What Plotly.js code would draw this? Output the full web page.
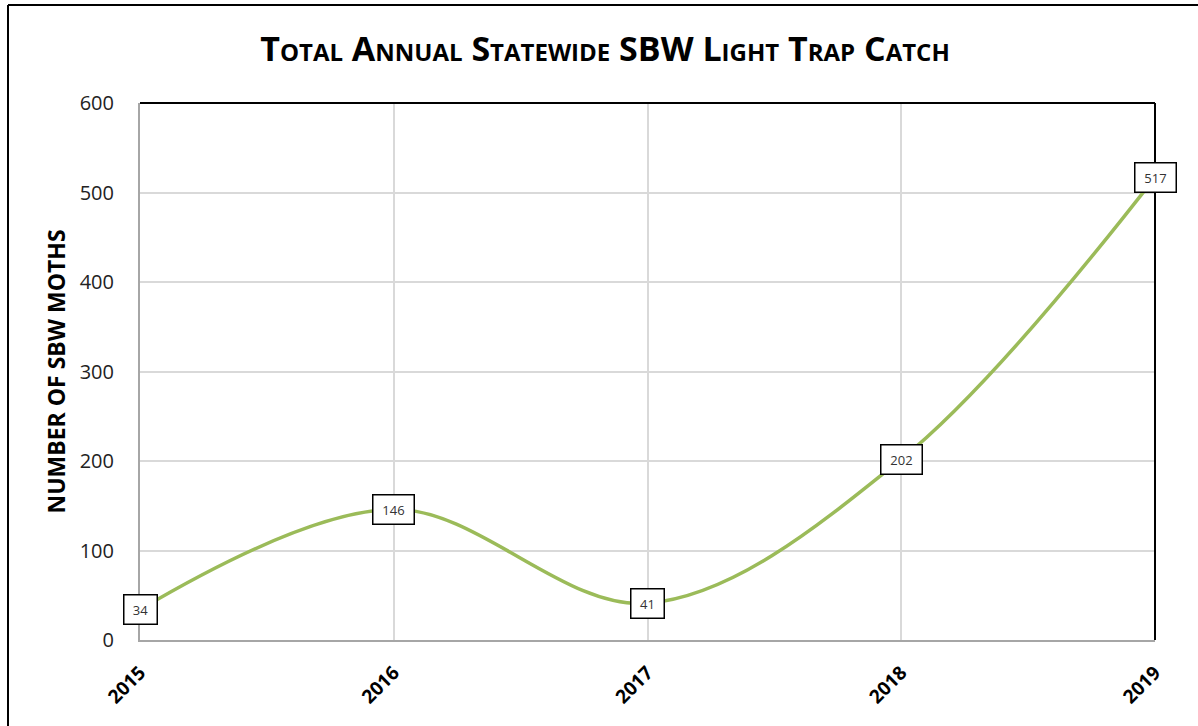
<!DOCTYPE html>
<html>
<head>
<meta charset="utf-8">
<script src="https://cdn.plot.ly/plotly-3.0.1.min.js"></script>
<style>
html,body{margin:0;padding:0;background:#fff;}
#chart{width:1198px;height:726px;}
</style>
</head>
<body>
<div id="chart"></div>
<script>
const years = [2015, 2016, 2017, 2018, 2019];
const moths = [34, 146, 41, 202, 517];
const yTicks = [0, 100, 200, 300, 400, 500, 600];

const FONT = '"Open Sans", "DejaVu Sans", sans-serif';

const trace = {
  x: years,
  y: moths,
  type: 'scatter',
  mode: 'lines',
  line: {color: '#9bbb59', width: 3.5, shape: 'spline', smoothing: 1},
  hoverinfo: 'x+y',
  cliponaxis: false
};

const annotations = years.map((yr, i) => ({
  x: yr, y: moths[i], xref: 'x', yref: 'y',
  text: String(moths[i]),
  showarrow: false,
  font: {family: FONT, size: 13, color: '#333'},
  bgcolor: '#ffffff',
  bordercolor: '#000000',
  borderwidth: 1.5,
  borderpad: 5,
  width: String(moths[i]).length * 8 + 6,
  xanchor: 'center', yanchor: 'middle'
}));

const layout = {
  width: 1198, height: 726,
  margin: {l: 140, r: 43, t: 103, b: 86, pad: 0},
  paper_bgcolor: '#ffffff',
  plot_bgcolor: '#ffffff',
  showlegend: false,
  title: {
    text: '<b>Total Annual Statewide SBW Light Trap Catch</b>',
    font: {family: FONT, size: 34, color: '#000', variant: 'small-caps'},
    x: 0.505, xref: 'container', xanchor: 'center',
    y: 0.932, yref: 'container', yanchor: 'middle'
  },
  xaxis: {
    range: [2015, 2019],
    tickvals: years,
    ticktext: years.map(String),
    tickangle: -45,
    tickfont: {family: FONT, size: 19, color: '#000', weight: 'bold'},
    showgrid: true, gridcolor: '#d9d9d9', gridwidth: 1.5,
    showline: true, linecolor: '#a6a6a6', linewidth: 2,
    zeroline: false, ticks: '', ticklabelstandoff: 12,
    fixedrange: true
  },
  yaxis: {
    range: [0, 600],
    tickvals: yTicks,
    ticktext: yTicks.map(String),
    tickfont: {family: FONT, size: 20, color: '#222'},
    showgrid: true, gridcolor: '#d9d9d9', gridwidth: 1.5,
    showline: true, linecolor: '#a6a6a6', linewidth: 2,
    zeroline: false, ticks: '', ticklabelstandoff: 20,
    title: {text: '<b>NUMBER OF SBW MOTHS</b>', font: {family: FONT, size: 23, color: '#000'}, standoff: 8},
    fixedrange: true
  },
  shapes: [
    {type: 'line', xref: 'paper', yref: 'paper', x0: 0, x1: 1, y0: 1, y1: 1, line: {color: '#000', width: 2}},
    {type: 'line', xref: 'paper', yref: 'paper', x0: 1, x1: 1, y0: 0, y1: 1, line: {color: '#000', width: 2}},
    {type: 'line', xref: 'paper', yref: 'paper', x0: -132/1015, x1: 1.1, y0: 1 + 98/537, y1: 1 + 98/537, line: {color: '#000', width: 2}},
    {type: 'line', xref: 'paper', yref: 'paper', x0: -132/1015, x1: -132/1015, y0: -0.2, y1: 1 + 98/537, line: {color: '#000', width: 2}}
  ],
  annotations: annotations
};

Plotly.newPlot('chart', [trace], layout, {displayModeBar: false, staticPlot: false});
</script>
</body>
</html>
